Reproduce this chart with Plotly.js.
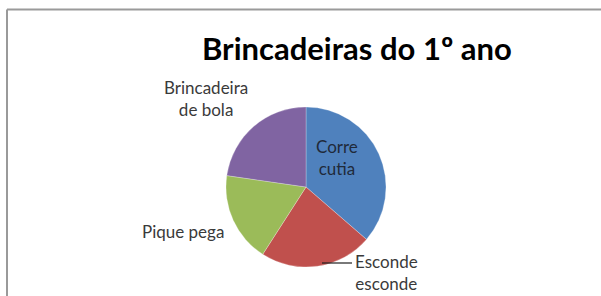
<!DOCTYPE html>
<html>
<head>
<meta charset="utf-8">
<script src="https://cdn.plot.ly/plotly-3.0.1.min.js"></script>
<style>html,body{margin:0;padding:0;background:#fff;}#chart{width:601px;height:296px;}</style>
</head>
<body>
<div id="chart"></div>
<script>
const categories = ["Corre cutia", "Esconde esconde", "Pique pega", "Brincadeira de bola"];
const values = [8, 5, 4, 5];
const colors = ["#4F81BD", "#C0504D", "#9BBB59", "#8064A2"];
const titleText = "Brincadeiras do 1º ano";

const W = 601, H = 296;
const px = x => x / W;
const py = y => 1 - y / H;

// label line breaks (text comes from categories)
function twoLines(label, splitAt) {
  const words = label.split(" ");
  return words.slice(0, splitAt).join(" ") + "<br>" + words.slice(splitAt).join(" ");
}
const labelTexts = [
  twoLines(categories[0], 1),
  twoLines(categories[1], 1),
  categories[2],
  twoLines(categories[3], 1)
];

const labelPos = [
  {x: 337, y: 157},
  {x: 386, y: 272},
  {x: 183, y: 231},
  {x: 206, y: 98}
];

const labelFont = {family: "Lato, 'Open Sans', sans-serif", size: 17, color: "#3a3a3a"};

const annotations = categories.map((c, i) => ({
  xref: "paper", yref: "paper",
  x: px(labelPos[i].x), y: py(labelPos[i].y),
  xanchor: "center", yanchor: "middle",
  showarrow: false,
  text: labelTexts[i],
  font: i === 0 ? Object.assign({}, labelFont, {color: "#1f2a3a"}) : labelFont
}));

annotations.push({
  xref: "paper", yref: "paper",
  x: px(357), y: py(48), xanchor: "center", yanchor: "middle",
  showarrow: false, text: titleText,
  font: {family: "Lato, 'Open Sans', sans-serif", size: 31, color: "#000", weight: "bold"}
});

const cx = 306, cy = 187, r = 80;

const data = [{
  type: "pie",
  labels: categories,
  values: values,
  sort: false,
  direction: "clockwise",
  rotation: 0,
  textinfo: "none",
  hoverinfo: "label+value",
  marker: {colors: colors, line: {color: "rgba(255,255,255,0.5)", width: 0.5}},
  domain: {x: [px(cx - r), px(cx + r)], y: [py(cy + r), py(cy - r)]},
  showlegend: false
}];

const layout = {
  width: W, height: H,
  margin: {l: 0, r: 0, t: 0, b: 0},
  paper_bgcolor: "#ffffff",
  plot_bgcolor: "#ffffff",
  showlegend: false,
  annotations: annotations,
  shapes: [
    {type: "line", xref: "paper", yref: "paper", x0: px(7), x1: px(7), y0: py(9.5), y1: py(300), line: {color: "#9a9a9a", width: 2}},
    {type: "line", xref: "paper", yref: "paper", x0: px(7), x1: px(605), y0: py(9.5), y1: py(9.5), line: {color: "#9a9a9a", width: 2}},
    {type: "line", xref: "paper", yref: "paper", x0: px(322), x1: px(352), y0: py(263), y1: py(263), line: {color: "#202020", width: 1.2}}
  ]
};

Plotly.newPlot("chart", data, layout, {displayModeBar: false, staticPlot: true});
</script>
</body>
</html>
